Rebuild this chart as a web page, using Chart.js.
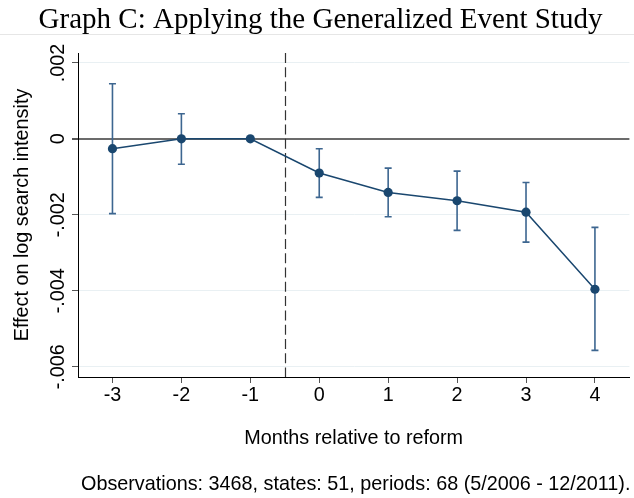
<!DOCTYPE html>
<html>
<head>
<meta charset="utf-8">
<script src="https://cdn.jsdelivr.net/npm/chart.js@4.4.1/dist/chart.umd.min.js"></script>
<style>
  body { margin: 0; background: #fff; }
</style>
</head>
<body>
<canvas id="eventChart" width="634" height="498"></canvas>
<script>
// dane z wykresu
const months = [-3, -2, -1, 0, 1, 2, 3, 4];
const effect = [-0.00026, 0, 0, -0.00090, -0.00141, -0.00163, -0.00193, -0.00396];
const ciHigh = [0.00145, 0.00066, null, -0.00026, -0.00077, -0.00085, -0.00115, -0.00233];
const ciLow = [-0.00197, -0.00067, null, -0.00154, -0.00205, -0.00241, -0.00272, -0.00557];
const yTicks = [0.002, 0, -0.002, -0.004, -0.006];
const yTickLabels = [".002", "0", "-.002", "-.004", "-.006"];
const reformAt = -0.5;

const titleText = "Graph C: Applying the Generalized Event Study";
const xTitle = "Months relative to reform";
const yTitle = "Effect on log search intensity";
const noteText = "Observations: 3468, states: 51, periods: 68 (5/2006 - 12/2011).";

const navy = "#1a476f";
const ciColor = "#3d6690";
const sans = "'Liberation Sans', Arial, sans-serif";
const fontPx = 19.8;

// slupki bledow, linia przerywana, teksty
const extras = {
    id: "extras",
    beforeDatasetsDraw(chart) {
        const ctx = chart.ctx;
        const x = chart.scales.x;
        const y = chart.scales.y;
        const area = chart.chartArea;

        ctx.save();
        // linia reformy
        ctx.strokeStyle = "#333";
        ctx.lineWidth = 1.2;
        ctx.setLineDash([10, 4.3]);
        const rx = Math.round(x.getPixelForValue(reformAt)) + 0.5;
        ctx.beginPath();
        ctx.moveTo(rx, area.top);
        ctx.lineTo(rx, area.bottom);
        ctx.stroke();
        ctx.setLineDash([]);

        // przedzialy ufnosci
        ctx.strokeStyle = ciColor;
        ctx.lineWidth = 1.6;
        months.forEach((m, i) => {
            if (ciLow[i] === null) return;
            const px = x.getPixelForValue(m);
            const top = y.getPixelForValue(ciHigh[i]);
            const bot = y.getPixelForValue(ciLow[i]);
            ctx.beginPath();
            ctx.moveTo(px, top);
            ctx.lineTo(px, bot);
            ctx.moveTo(px - 3.5, top);
            ctx.lineTo(px + 3.5, top);
            ctx.moveTo(px - 3.5, bot);
            ctx.lineTo(px + 3.5, bot);
            ctx.stroke();
        });
        ctx.restore();
    },
    afterDraw(chart) {
        const ctx = chart.ctx;
        const y = chart.scales.y;
        const area = chart.chartArea;
        ctx.save();

        // cienka linia pod tytulem
        ctx.strokeStyle = "#e6e6e6";
        ctx.lineWidth = 1;
        ctx.beginPath();
        ctx.moveTo(0, 34.5);
        ctx.lineTo(chart.width, 34.5);
        ctx.stroke();

        ctx.fillStyle = "#000";
        ctx.textBaseline = "alphabetic";
        ctx.textAlign = "center";
        ctx.font = "29px 'Liberation Serif', serif";
        ctx.fillText(titleText, 320.5, 28);

        ctx.font = fontPx + "px " + sans;
        ctx.fillText(xTitle, (area.left + area.right) / 2, 444);

        ctx.textAlign = "left";
        ctx.fillText(noteText, 81, 490);

        // etykiety osi Y (obrocone)
        yTicks.forEach((v, i) => {
            ctx.save();
            ctx.translate(63.5, y.getPixelForValue(v));
            ctx.rotate(-Math.PI / 2);
            ctx.textAlign = "center";
            ctx.fillText(yTickLabels[i], 0, 0);
            ctx.restore();
        });

        ctx.save();
        ctx.translate(27.5, (area.top + area.bottom) / 2);
        ctx.rotate(-Math.PI / 2);
        ctx.textAlign = "center";
        ctx.fillText(yTitle, 0, 0);
        ctx.restore();

        ctx.restore();
    }
};

const ctx = document.getElementById("eventChart").getContext("2d");
new Chart(ctx, {
    type: "line",
    data: {
        datasets: [{
            data: months.map((m, i) => ({ x: m, y: effect[i] })),
            borderColor: navy,
            borderWidth: 1.5,
            pointRadius: 4.6,
            pointBackgroundColor: navy,
            pointBorderWidth: 0,
            tension: 0
        }]
    },
    options: {
        responsive: false,
        animation: false,
        layout: { padding: { top: 53, right: 2, left: 0, bottom: 0 } },
        plugins: {
            legend: { display: false },
            tooltip: { enabled: false }
        },
        scales: {
            x: {
                type: "linear",
                min: -3.5,
                max: 4.5,
                afterBuildTicks: scale => { scale.ticks = months.map(v => ({ value: v })); },
                afterFit: scale => { scale.height = 121; },
                grid: { drawOnChartArea: false, tickLength: 6, tickColor: "#555" },
                border: { color: "#000", width: 1 },
                ticks: {
                    color: "#000",
                    padding: 1,
                    maxRotation: 0,
                    font: { family: sans, size: fontPx },
                    callback: v => String(v)
                }
            },
            y: {
                type: "linear",
                min: -0.00627,
                max: 0.00226,
                afterBuildTicks: scale => { scale.ticks = yTicks.map(v => ({ value: v })); },
                afterFit: scale => { scale.width = 78; },
                grid: {
                    color: c => (c.tick && c.tick.value === 0 ? "#6b6b6b" : "#e9f0f3"),
                    lineWidth: c => (c.tick && c.tick.value === 0 ? 2 : 1),
                    tickLength: 6,
                    tickColor: "#555"
                },
                border: { color: "#000", width: 1 },
                ticks: { display: false }
            }
        }
    },
    plugins: [extras]
});
</script>
</body>
</html>
